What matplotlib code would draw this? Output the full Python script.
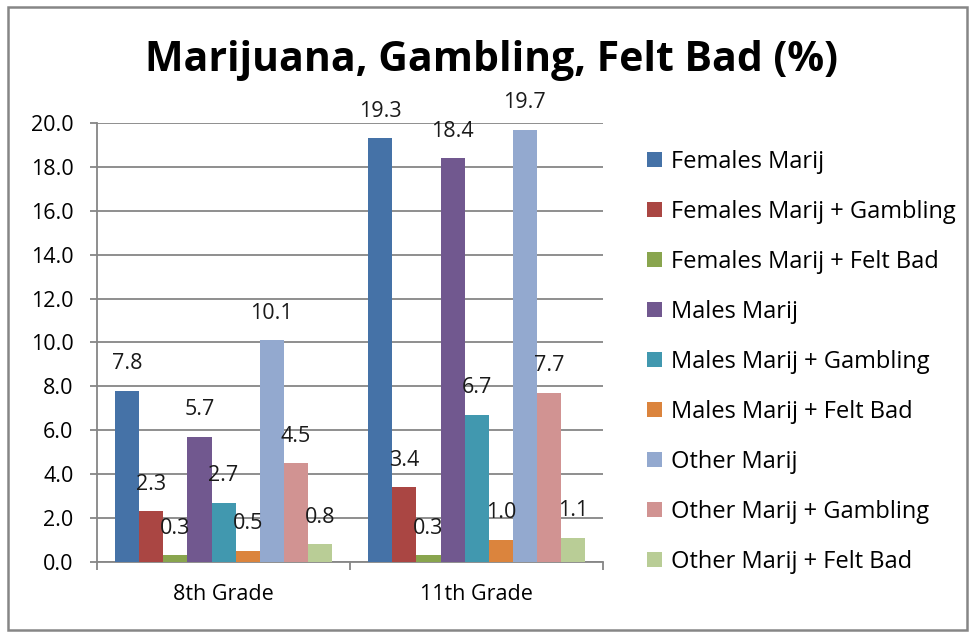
import numpy as np
import matplotlib.pyplot as plt
from matplotlib.patches import Rectangle

plt.rcParams['font.family'] = ['Open Sans', 'DejaVu Sans']

grades = ["8th Grade", "11th Grade"]
series = [
    "Females Marij", "Females Marij + Gambling", "Females Marij + Felt Bad",
    "Males Marij", "Males Marij + Gambling", "Males Marij + Felt Bad",
    "Other Marij", "Other Marij + Gambling", "Other Marij + Felt Bad",
]
grade8 = [7.8, 2.3, 0.3, 5.7, 2.7, 0.5, 10.1, 4.5, 0.8]
grade11 = [19.3, 3.4, 0.3, 18.4, 6.7, 1.0, 19.7, 7.7, 1.1]
colors = ["#4572A7", "#AA4643", "#89A54E", "#71588F", "#4198AF",
          "#DB843D", "#93A9CF", "#D19392", "#B9CD96"]

values = np.array([grade8, grade11])
grid_col = "#868686"
fs = 15.5

fig = plt.figure(figsize=(9.72, 6.33), dpi=100)
ax = fig.add_axes([0.0998, 0.1122, 0.5208, 0.6935])

x = np.arange(len(grades))
n = len(series)
width = 0.0952
for i, name in enumerate(series):
    pos = x + (i - (n - 1) / 2) * width
    bars = ax.bar(pos, values[:, i], width, color=colors[i], label=name, zorder=3)
    for b, v in zip(bars, values[:, i]):
        ax.annotate(f"{v:.1f}", (b.get_x() + b.get_width() / 2, v),
                    xytext=(0, 19.5), textcoords="offset points",
                    ha="center", va="center", fontsize=fs, color="#1a1a1a",
                    zorder=4)

ax.set_ylim(0, 20)
ax.set_xlim(-0.5, 1.5)
ax.set_yticks(np.arange(0, 20.1, 2))
ax.set_yticklabels([f"{t:.1f}" for t in np.arange(0, 20.1, 2)], fontsize=fs)
ax.yaxis.grid(True, color=grid_col, lw=1.3, zorder=0)

# category labels sit between the boundary tick marks
ax.set_xticks([-0.5, 0.5, 1.5])
ax.set_xticklabels([])
ax.set_xticks(x, minor=True)
ax.set_xticklabels(grades, minor=True, fontsize=fs)
ax.tick_params(axis="x", which="major", length=6, width=1.3, color=grid_col)
ax.tick_params(axis="x", which="minor", length=0, pad=16)
ax.tick_params(axis="y", length=5, width=1.3, color=grid_col, pad=12)

for s in ["top", "right"]:
    ax.spines[s].set_visible(False)
for s in ["left", "bottom"]:
    ax.spines[s].set_color(grid_col)
    ax.spines[s].set_linewidth(1.3)

fig.text(0.506, 0.904, "Marijuana, Gambling, Felt Bad (%)", ha="center",
         va="center", fontsize=29.5, fontweight="bold")

fig.legend(loc="center left", bbox_to_anchor=(0.666, 0.428), frameon=False,
           fontsize=17, handlelength=0.6, handleheight=0.6,
           handletextpad=0.4, labelspacing=1.1, borderpad=0, borderaxespad=0)

# chart border
fig.patches.append(Rectangle((0.008, 0.005), 0.987, 0.984, transform=fig.transFigure,
                             fill=False, edgecolor=grid_col, lw=1.8))

fig.savefig("out.png", dpi=100)
